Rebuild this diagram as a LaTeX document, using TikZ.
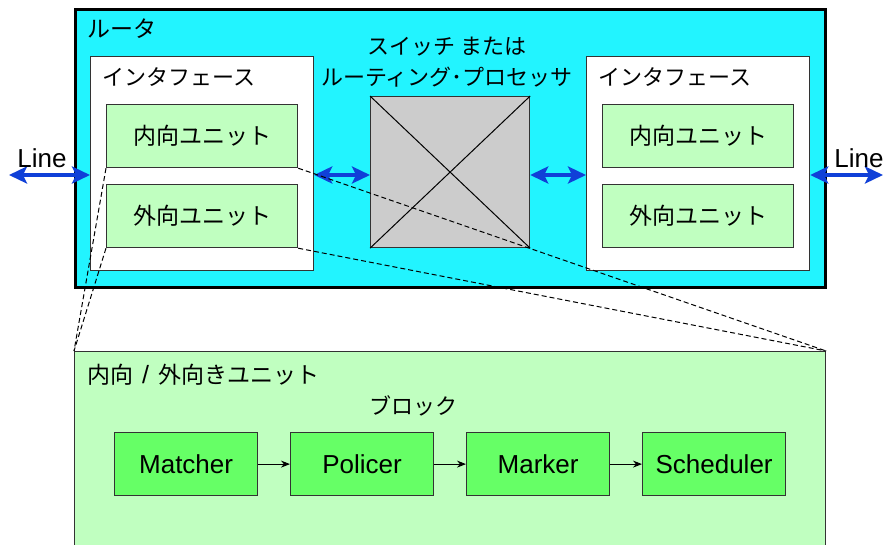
\documentclass[tikz,border=0pt]{standalone}
\usepackage{fontspec}
\setmainfont{Liberation Sans}
\newfontfamily\jp{Noto Sans CJK JP}
\usetikzlibrary{arrows.meta}
\definecolor{routercyan}{RGB}{34,244,255}
\definecolor{unitgreen}{RGB}{192,255,192}
\definecolor{blockgreen}{RGB}{102,255,102}
\definecolor{swgray}{RGB}{204,204,204}
\definecolor{arrowblue}{RGB}{16,64,216}
\definecolor{edgegray}{RGB}{51,51,51}
\tikzset{
  frame/.style={rectangle, draw=edgegray, line width=1.2pt, inner sep=0pt, anchor=north west},
  unitbox/.style={frame, fill=unitgreen, minimum width=191pt, minimum height=63pt, font=\jp\fontsize{23}{27}\selectfont},
  ifbox/.style={frame, fill=white, minimum width=223pt, minimum height=214pt},
  blockbox/.style={frame, fill=blockgreen, minimum width=143pt, minimum height=63pt, font=\fontsize{26}{30}\selectfont},
  jplabel/.style={inner sep=0pt, font=\jp\fontsize{22}{26}\selectfont},
  latinlabel/.style={inner sep=0pt, font=\fontsize{26}{30}\selectfont},
  bluearrow/.style={draw=arrowblue, line width=4pt, {Stealth[length=18pt,width=17pt,inset=4pt,fill=arrowblue]}-{Stealth[length=18pt,width=17pt,inset=4pt,fill=arrowblue]}},
  flow/.style={draw=black, line width=1pt, -{Stealth[length=9pt,width=7pt]}},
  zoomline/.style={draw=black, line width=1pt, dash pattern=on 5pt off 3pt}
}
\begin{document}
\begin{tikzpicture}[x=1pt,y=-1pt]
\clip (0,0) rectangle (884,544);
\fill[white] (0,0) rectangle (884,544);

% router
\node[frame, draw=black, line width=2.5pt, fill=routercyan, minimum width=750pt, minimum height=278pt] (router) at (74,8) {};
\node[jplabel, anchor=west, font=\jp\fontsize{23}{27}\selectfont] (rtitle) at (87,29) {ルータ};

% left interface
\node[ifbox] (ifL) at (90,56) {};
\node[jplabel, anchor=west] (ifLtitle) at (102,77) {インタフェース};
\node[unitbox] (inL) at (106,104) {内向ユニット};
\node[unitbox] (outL) at (106,184) {外向ユニット};

% right interface
\node[ifbox] (ifR) at (586,56) {};
\node[jplabel, anchor=west] (ifRtitle) at (598,77) {インタフェース};
\node[unitbox] (inR) at (602,104) {内向ユニット};
\node[unitbox] (outR) at (602,184) {外向ユニット};

% switch
\node[frame, fill=swgray, minimum width=159pt, minimum height=151pt] (sw) at (370,96) {};
\draw[line width=1pt] (sw.north west) -- (sw.south east);
\draw[line width=1pt] (sw.south west) -- (sw.north east);
\node[jplabel] (swl1) at (447,47) {スイッチ または};
\node[jplabel] (swl2) at (447,77) {ルーティング･プロセッサ};

% arrows
\coordinate (lineL) at (9,175);
\coordinate (lineR) at (883,175);
\draw[bluearrow] (lineL) -- (ifL.west |- lineL);
\draw[bluearrow] (ifL.east |- lineL) -- (sw.west |- lineL);
\draw[bluearrow] (sw.east |- lineL) -- (ifR.west |- lineL);
\draw[bluearrow] (ifR.east |- lineR) -- (lineR);
\node[latinlabel] (lineLtxt) at (42,158) {Line};
\node[latinlabel] (lineRtxt) at (859,158) {Line};

% bottom detail box
\node[frame, fill=unitgreen, minimum width=751pt, minimum height=220pt] (detail) at (74,351) {};
\node[jplabel, anchor=west, font=\jp\fontsize{23}{27}\selectfont] (dtitle) at (87,375) {内向{\rmfamily\fontsize{25}{30}\selectfont\hspace{9pt}/\hspace{9pt}}外向きユニット};
\node[jplabel] (blk) at (413,406) {ブロック};
\node[blockbox] (matcher) at (114,432) {Matcher};
\node[blockbox] (policer) at (290,432) {Policer};
\node[blockbox] (marker) at (466,432) {Marker};
\node[blockbox] (sched) at (642,432) {Scheduler};
\draw[flow] (matcher) -- (policer);
\draw[flow] (policer) -- (marker);
\draw[flow] (marker) -- (sched);

% zoom lines
\draw[zoomline] (inL.south west) -- (detail.north west);
\draw[zoomline] (outL.south west) -- (detail.north west);
\draw[zoomline] (inL.south east) -- (detail.north east);
\draw[zoomline] (outL.south east) -- (detail.north east);
\end{tikzpicture}
\end{document}
